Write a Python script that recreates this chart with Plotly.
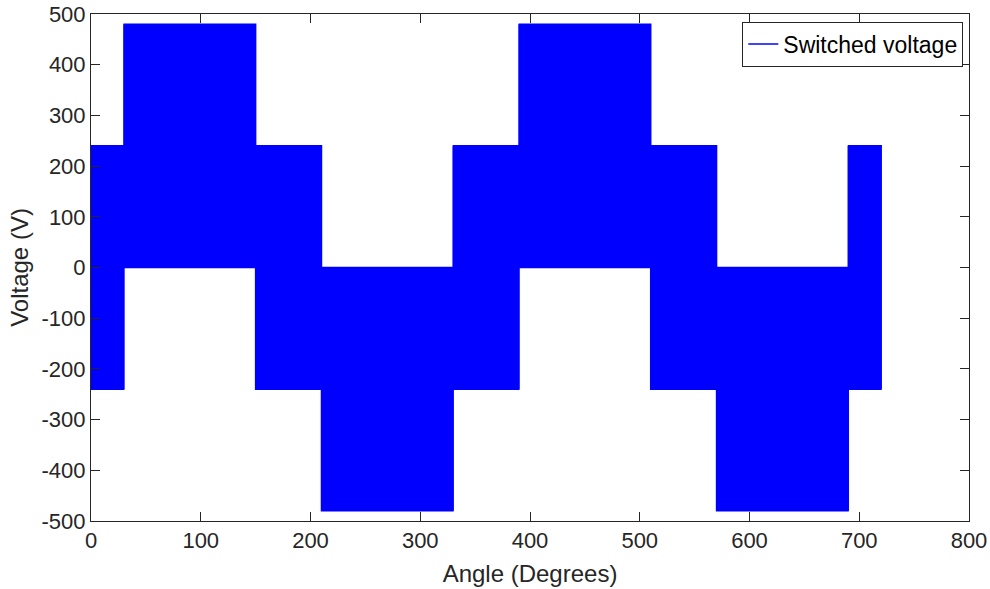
import numpy as np
import plotly.graph_objects as go

# Segment boundaries (degrees) and switching levels (V)
seg_start = [0, 30, 150, 210, 330, 390, 510, 570, 690]
seg_end = [30, 150, 210, 330, 390, 510, 570, 690, 720]
seg_high = [240, 480, 240, 0, 240, 480, 240, 0, 240]
seg_low = [-240, 0, -240, -480, -240, 0, -240, -480, -240]

x_ticks = [0, 100, 200, 300, 400, 500, 600, 700, 800]
y_ticks = [-500, -400, -300, -200, -100, 0, 100, 200, 300, 400, 500]
y_tick_text = [str(v) for v in y_ticks]

switch_step = 0.25  # degrees between switching edges (dense PWM)

xs, ys = [], []
for a, b, hi, lo in zip(seg_start, seg_end, seg_high, seg_low):
    edges = np.arange(a, b + 1e-9, switch_step)
    for i, e in enumerate(edges):
        first, second = (hi, lo) if i % 2 == 0 else (lo, hi)
        xs.extend([e, e])
        ys.extend([first, second])

fig = go.Figure()
fig.add_trace(go.Scatter(
    x=xs, y=ys, mode="lines", name="Switched voltage",
    line=dict(color="#0000ff", width=1.5, simplify=False),
    showlegend=True,
))

axis_color = "#262626"
font_family = "Liberation Sans, Arial, sans-serif"

fig.update_layout(
    width=990, height=589,
    margin=dict(l=91, r=21, t=14, b=68, autoexpand=False),
    paper_bgcolor="white", plot_bgcolor="white",
    font=dict(family=font_family, color=axis_color, size=22),
    showlegend=True,
    legend=dict(
        x=0.9935, y=0.985, xanchor="right", yanchor="top",
        bgcolor="white", bordercolor=axis_color, borderwidth=1,
        font=dict(size=23, color="black"),
        itemwidth=30, tracegroupgap=0,
    ),
    xaxis=dict(
        range=[0, 800], tickvals=x_ticks, ticktext=[str(v) for v in x_ticks],
        ticks="inside", ticklen=9, tickcolor=axis_color, tickwidth=1,
        showline=True, linecolor=axis_color, linewidth=1, mirror="ticks",
        showgrid=False, zeroline=False, automargin=False,
        tickfont=dict(size=22, color=axis_color),
        title=dict(text="Angle (Degrees)", font=dict(size=24, color=axis_color), standoff=12),
    ),
    yaxis=dict(
        range=[-500, 500], tickvals=y_ticks, ticktext=y_tick_text,
        ticks="inside", ticklen=9, tickcolor=axis_color, tickwidth=1,
        showline=True, linecolor=axis_color, linewidth=1, mirror="ticks",
        showgrid=False, zeroline=False, automargin=False,
        tickfont=dict(size=22, color=axis_color),
        title=dict(text="Voltage (V)", font=dict(size=24, color=axis_color), standoff=6),
    ),
)

fig.write_html("out.html")
